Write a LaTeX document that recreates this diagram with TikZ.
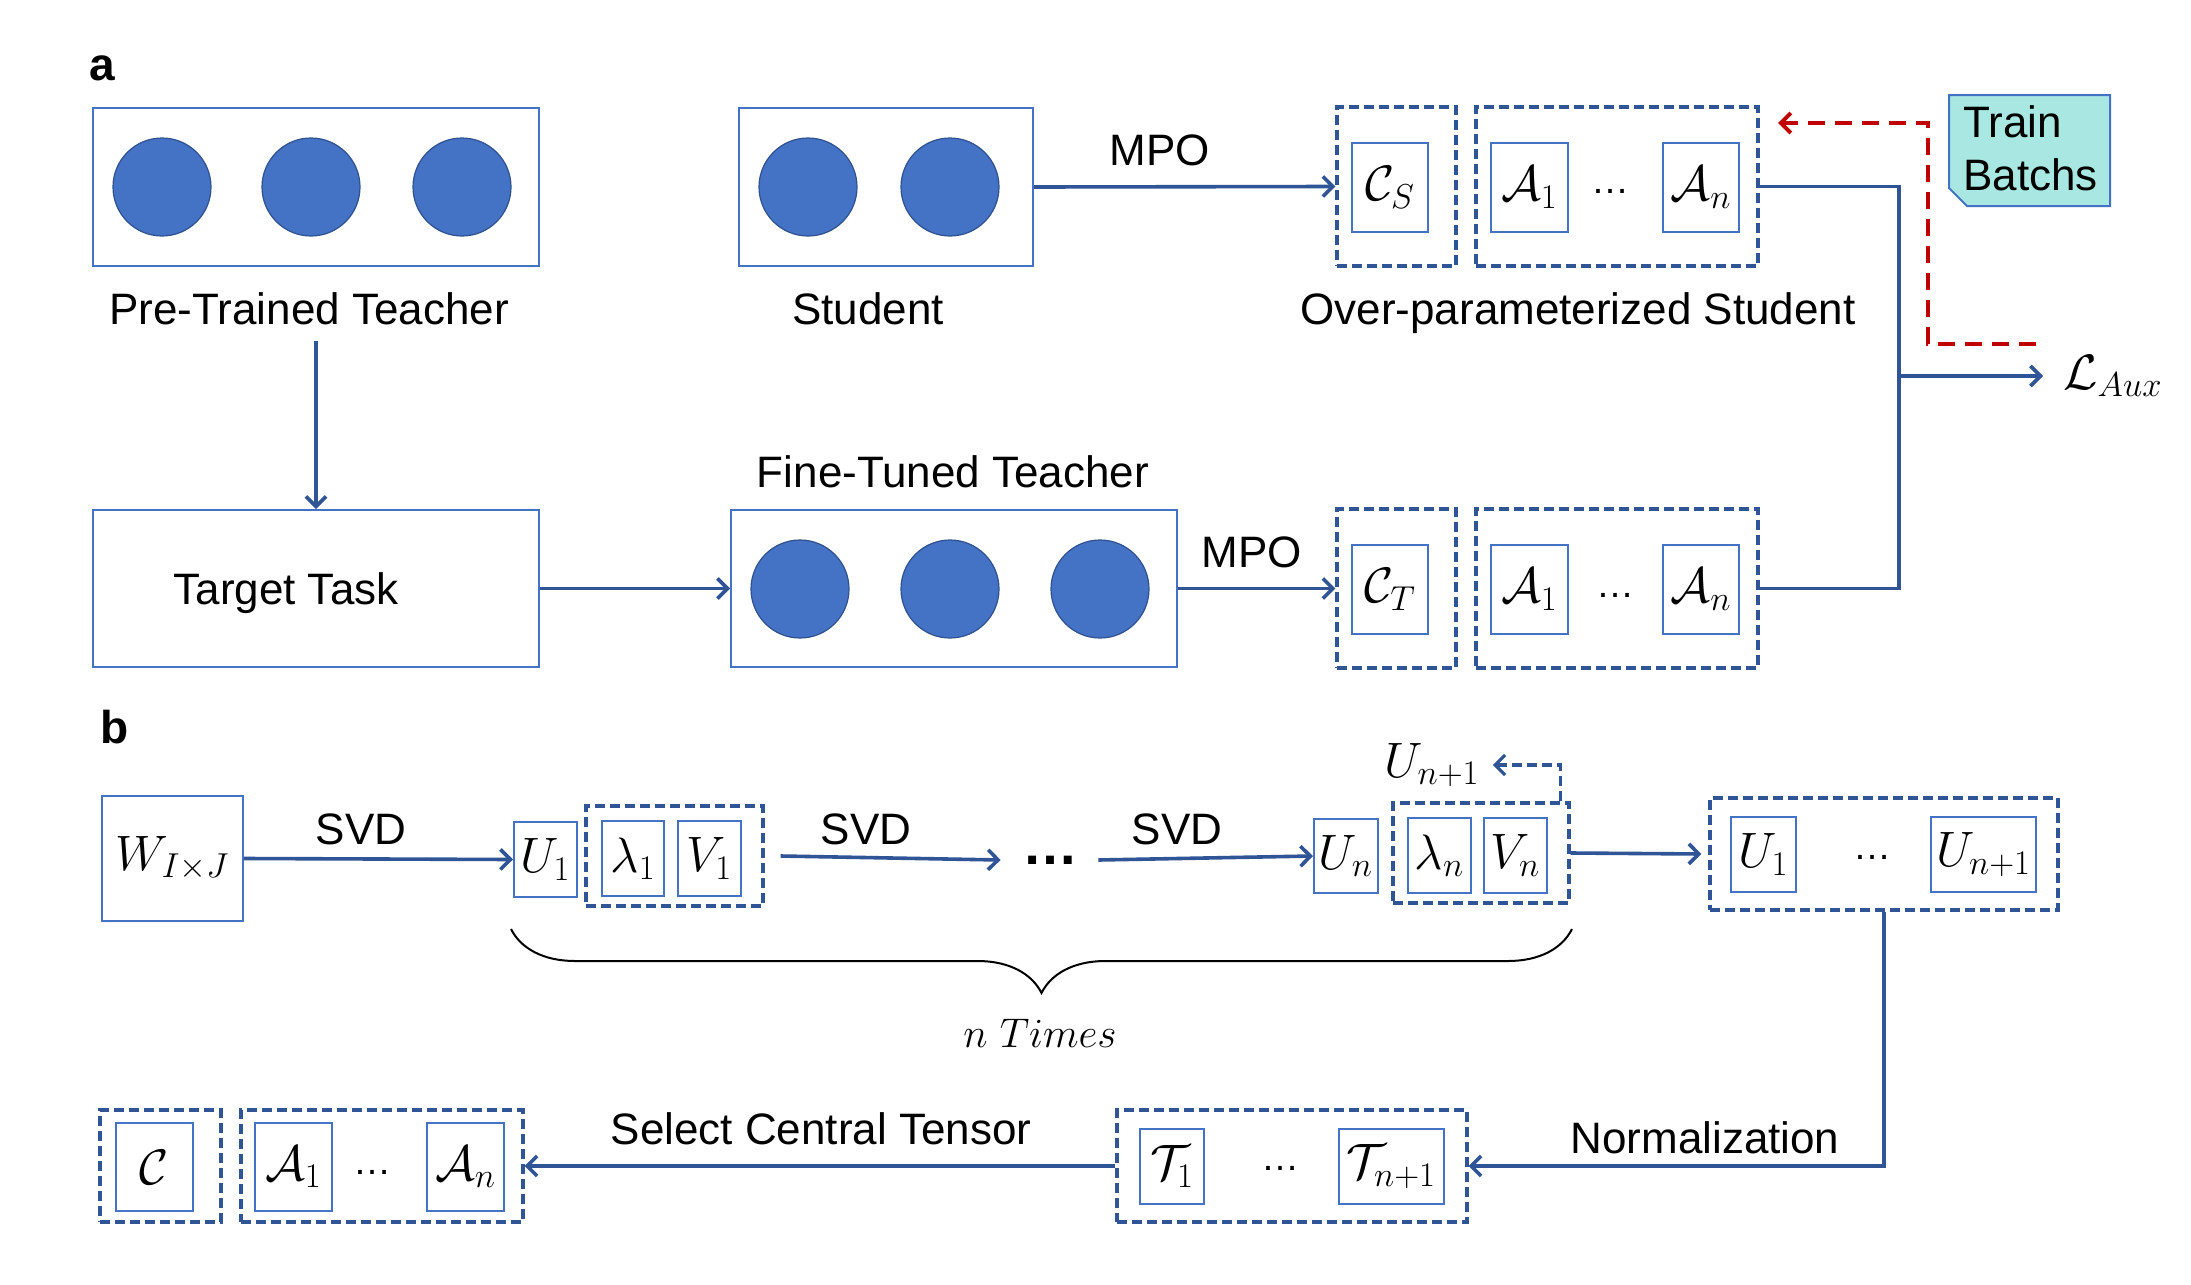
\documentclass[tikz,border=0pt]{standalone}
\usepackage{fontspec}
\setmainfont{Liberation Sans}
\usetikzlibrary{arrows.meta,decorations.pathreplacing}
\definecolor{lnblue}{HTML}{2F5597}
\definecolor{bxblue}{HTML}{4472C4}
\definecolor{nfill}{HTML}{4472C4}
\definecolor{nedge}{HTML}{2F528F}
\definecolor{tbfill}{HTML}{A9E8E2}
\definecolor{rdash}{HTML}{C00000}
\newcommand{\mkbox}[7]{\node[#1, minimum width={(#5-#3)*0.5pt}, minimum height={(#6-#4)*0.5pt}] (#2) at ({(#3+#5)/2},{(#4+#6)/2}) {#7};}
\begin{document}
\begin{tikzpicture}[x=0.5pt,y=-0.5pt,
  lbl/.style={font=\fontsize{22}{26.5}\selectfont, inner sep=0pt, anchor=base},
  bigbox/.style={draw=bxblue, line width=1pt, inner sep=0pt},
  ibox/.style={draw=bxblue, line width=1pt, inner sep=0pt},
  dbox/.style={draw=lnblue, line width=1.6pt, dash pattern=on 5pt off 2.5pt, inner sep=0pt},
  neuron/.style={circle, fill=nfill, draw=nedge, line width=0.6pt, minimum size=49pt, inner sep=0pt},
  arr/.style={draw=lnblue, line width=1.8pt, -{Straight Barb[length=5pt,width=10pt]}},
  darr/.style={draw=lnblue, line width=1.6pt, dash pattern=on 5pt off 2.5pt, -{Straight Barb[length=5pt,width=10pt]}},
  redarr/.style={draw=rdash, line width=2pt, dash pattern=on 8.5pt off 5pt, -{Straight Barb[length=5pt,width=10pt]}},
  conn/.style={draw=lnblue, line width=1.8pt},
  mth/.style={font=\fontsize{24.5}{28}\selectfont, inner sep=0pt},
  sdots/.style={font=\fontsize{19}{20}\selectfont, inner sep=0pt},
  bdots/.style={font=\fontsize{28}{30}\selectfont\bfseries, inner sep=0pt},
  hdr/.style={font=\fontsize{23}{26}\selectfont\bfseries, inner sep=0pt, anchor=base west},
]
\fill[white] (0,0) rectangle (2191,1285);
\useasboundingbox (0,0) rectangle (2191,1285);

% ---------------- part a ----------------
\node[hdr] (la) at (89,80) {a};

\mkbox{bigbox}{teacher}{93}{108}{539}{266}{}
\node[neuron] (t1) at (162,187) {};
\node[neuron] (t2) at (311,187) {};
\node[neuron] (t3) at (462,187) {};
\node[lbl] (tlab) at (309,324) {Pre-Trained Teacher};

\mkbox{bigbox}{student}{739}{108}{1033}{266}{}
\node[neuron] (s1) at (808,187) {};
\node[neuron] (s2) at (950,187) {};
\node[lbl] (slab) at (868,324) {Student};

\mkbox{bigbox}{target}{93}{510}{539}{667}{}
\node[lbl] (ttext) at (286,604) {Target Task};

\mkbox{bigbox}{fine}{731}{510}{1177}{667}{}
\node[neuron] (f1) at (800,589) {};
\node[neuron] (f2) at (950,589) {};
\node[neuron] (f3) at (1100,589) {};
\node[lbl] (flab) at (953,487) {Fine-Tuned Teacher};

\node[lbl] (mpo1) at (1160,165) {MPO};
\node[lbl] (mpo2) at (1252,567) {MPO};
\node[lbl] (oplab) at (1578,324) {Over-parameterized Student};

% upper MPO student
\mkbox{dbox}{csd}{1337}{107}{1456}{266}{}
\mkbox{ibox,mth}{cs}{1352}{143}{1428}{232}{$\mathcal{C}_S$}
\mkbox{dbox}{aud}{1476}{107}{1758}{266}{}
\mkbox{ibox,mth}{au1}{1491}{143}{1568}{232}{$\mathcal{A}_1$}
\mkbox{ibox,mth}{aun}{1663}{143}{1739}{232}{$\mathcal{A}_n$}
\node[sdots] (audots) at (1610,191) {…};

% lower MPO teacher
\mkbox{dbox}{ctd}{1337}{509}{1456}{668}{}
\mkbox{ibox,mth}{ct}{1352}{545}{1428}{634}{$\mathcal{C}_T$}
\mkbox{dbox}{add}{1476}{509}{1758}{668}{}
\mkbox{ibox,mth}{ad1}{1491}{545}{1568}{634}{$\mathcal{A}_1$}
\mkbox{ibox,mth}{adn}{1663}{545}{1739}{634}{$\mathcal{A}_n$}
\node[sdots] (addots) at (1615,595) {…};

% train batchs
\path[draw=bxblue, line width=1pt, fill=tbfill] (1949,95) -- (2110,95) -- (2110,206) -- (1967,206) -- (1949,188) -- cycle;
\node[lbl, anchor=base west] (train1) at (1963,137) {Train};
\node[lbl, anchor=base west] (train2) at (1963,190) {Batchs};

% loss
\node[mth, font=\fontsize{23}{26}\selectfont, anchor=west, inner xsep=10pt] (laux) at (2043,376) {$\mathcal{L}_{Aux}$};
\coordinate (jx) at (1899,376);

% connectors part a
\draw[arr] ([yshift=-8.5pt]tlab.base -| target.north) -- (target.north);
\draw[arr] (target.east) -- (fine.west);
\draw[arr] (student.east) -- (csd.west);
\draw[arr] (fine.east) -- (ctd.west);
\draw[conn] (aud.east) -| (jx) |- (add.east);
\draw[arr] (jx) -- (laux.west);
\coordinate (rs) at (2036,344);
\coordinate (rc1) at (1928,344);
\coordinate (rc2) at (1928,123);
\coordinate (rend) at (1778,123);
\draw[redarr] (rs) -- (rc1) -- (rc2) -- (rend);

% ---------------- part b ----------------
\node[hdr] (lb) at (100,743) {b};

\mkbox{bigbox,mth}{W}{102}{796}{243}{921}{$W_{I\times J}$}
\mkbox{ibox,mth}{u1}{514}{822}{577}{897}{$U_1$}
\mkbox{dbox}{lv1}{586}{806}{763}{906}{}
\mkbox{ibox,mth}{l1}{602}{821}{664}{896}{$\lambda_1$}
\mkbox{ibox,mth}{v1}{678}{821}{741}{896}{$V_1$}
\node[lbl] (svd1) at (361,844) {SVD};
\node[lbl] (svd2) at (866,844) {SVD};
\node[lbl] (svd3) at (1177,844) {SVD};
\node[bdots] (bd) at (1050,860) {…};
\mkbox{ibox,mth}{un}{1314}{819}{1378}{893}{$U_n$}
\mkbox{dbox}{lvn}{1393}{803}{1569}{903}{}
\mkbox{ibox,mth}{ln}{1408}{818}{1471}{893}{$\lambda_n$}
\mkbox{ibox,mth}{vn}{1484}{818}{1547}{893}{$V_n$}
\node[mth] (unp1) at (1432,765) {$U_{n+1}$};

\mkbox{dbox}{ub}{1710}{798}{2058}{910}{}
\mkbox{ibox,mth}{ub1}{1731}{817}{1796}{892}{$U_1$}
\mkbox{ibox,mth}{ubn}{1931}{817}{2036}{892}{$U_{n+1}$}
\node[sdots] (ubdots) at (1872,857) {…};

\mkbox{dbox}{tb}{1117}{1110}{1467}{1222}{}
\mkbox{ibox,mth}{tb1}{1140}{1129}{1204}{1204}{$\mathcal{T}_1$}
\mkbox{ibox,mth}{tbn}{1339}{1129}{1444}{1204}{$\mathcal{T}_{n+1}$}
\node[sdots] (tbdots) at (1280,1168) {…};
\node[lbl] (norm) at (1705,1153) {Normalization};
\node[lbl] (sel) at (821,1144) {Select Central Tensor};

\mkbox{dbox}{cd}{100}{1110}{221}{1222}{}
\mkbox{ibox,mth}{c0}{116}{1123}{193}{1211}{$\mathcal{C}$}
\mkbox{dbox}{abd}{241}{1110}{523}{1222}{}
\mkbox{ibox,mth}{ab1}{255}{1123}{332}{1211}{$\mathcal{A}_1$}
\mkbox{ibox,mth}{abn}{427}{1123}{504}{1211}{$\mathcal{A}_n$}
\node[sdots] (abdots) at (372,1172) {…};

% brace
\coordinate (brL) at (511,929);
\coordinate (brR) at (1572,929);
\draw[black, line width=1pt, decorate, decoration={brace, mirror, amplitude=32pt}] (brL) -- (brR);
\node[mth, font=\fontsize{22}{26}\selectfont, anchor=base] (ntimes) at (1040,1047) {$n\ Times$};

% connectors part b
\draw[arr] (W.east) -- (u1.west);
\draw[arr] ([xshift=8pt]lv1.east) -- ([xshift=-10.5pt]bd.west);
\draw[arr] ([xshift=10pt]bd.east) -- (un.west);
\draw[arr] (lvn.east) -- ([xshift=-3.5pt]ub.west);
\draw[darr] ([xshift=-5pt]lvn.north east) |- ([xshift=6.5pt]unp1.east);
\draw[arr] (ub.south) |- (tb.east);
\draw[arr] (tb.west) -- (abd.east);
\end{tikzpicture}
\end{document}
